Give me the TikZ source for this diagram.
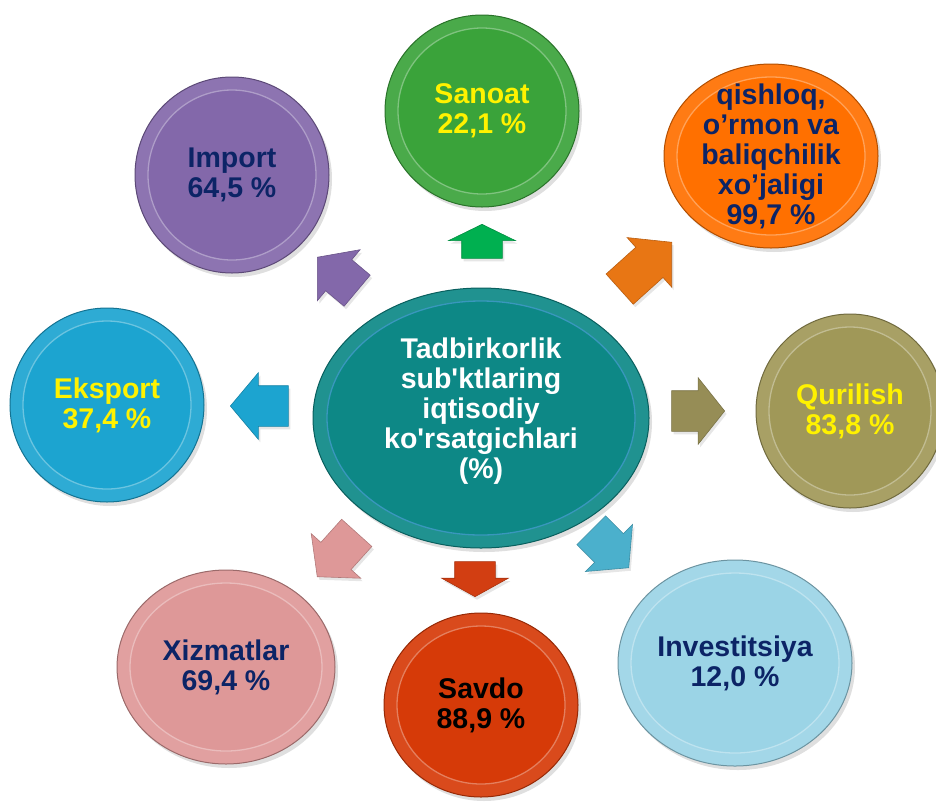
\documentclass[tikz,border=0pt]{standalone}
\usepackage{fontspec}
\setmainfont{Liberation Sans}[Ligatures=TeXOff]
\usetikzlibrary{shapes.geometric}
\usetikzlibrary{shapes.arrows}
\usetikzlibrary{shadows}

\definecolor{hubteal}{RGB}{13,136,134}
\definecolor{sanoatgreen}{RGB}{58,163,58}
\definecolor{agrorange}{RGB}{255,112,0}
\definecolor{quriolive}{RGB}{160,152,88}
\definecolor{investblue}{RGB}{155,212,230}
\definecolor{savdored}{RGB}{214,58,8}
\definecolor{xizmpink}{RGB}{222,152,152}
\definecolor{ekspblue}{RGB}{28,164,208}
\definecolor{imppurple}{RGB}{131,104,170}
\definecolor{arrgreen}{RGB}{0,176,80}
\definecolor{arrorange}{RGB}{232,118,20}
\definecolor{arrolive}{RGB}{150,141,86}
\definecolor{arrblue}{RGB}{75,176,204}
\definecolor{arrred}{RGB}{210,62,18}
\definecolor{labelnavy}{RGB}{12,36,102}

\begin{document}
\begin{tikzpicture}[x=1pt, y=-1pt]

\tikzstyle{every node}=[font=\bfseries\fontsize{28.5}{30}\selectfont]
\tikzstyle{bubble}=[ellipse, inner sep=0pt, line width=1pt,
	drop shadow={opacity=0.25, shadow xshift=3pt, shadow yshift=-4pt}]
\tikzstyle{ring}=[line width=1.3pt]
\tikzstyle{lbl}=[align=center, inner sep=0pt]
\tikzstyle{blockarrow}=[single arrow, inner xsep=0pt, inner ysep=20pt,
	single arrow head extend=13pt, line width=0.6pt,
	drop shadow={opacity=0.2, shadow xshift=2pt, shadow yshift=-3pt}]

\useasboundingbox (0,0) rectangle (936,801);

% centre
\node (hub) [bubble, fill=hubteal!92!white, draw=hubteal!70!black,
	minimum width=336pt, minimum height=260pt] at (481,418) {};
\draw[ring, draw=cyan!45!hubteal, fill=hubteal] 
			(hub.center) ellipse (154pt and 117pt);
\node (hubT) [lbl, text=white] at (481,411) 
	{Tadbirkorlik\\sub'ktlaring\\iqtisodiy\\ko'rsatgichlari\\(\%)};

% arrows
\node (arSanoat) [blockarrow, fill=arrgreen, draw=arrgreen!80!black,
	single arrow tip angle=128, minimum height=34pt,
	rotate=90, anchor=tip] at (482,224) {};
\node (arQishloq) [blockarrow, fill=arrorange, draw=arrorange!80!black,
	single arrow tip angle=96, minimum height=70pt,
	rotate=42, anchor=tip] at (672,242) {};
\node (arQurilish) [blockarrow, fill=arrolive, draw=arrolive!80!black,
	single arrow tip angle=103, minimum height=53pt,
	rotate=0, anchor=tip] at (725,411) {};
\node (arInvest) [blockarrow, fill=arrblue, draw=arrblue!80!black,
	single arrow tip angle=100, minimum height=53pt,
	rotate=-45, anchor=tip] at (629,568) {};
\node (arSavdo) [blockarrow, fill=arrred, draw=arrred!80!black,
	single arrow tip angle=122, minimum height=35pt,
	rotate=-90, anchor=tip] at (475,597) {};
\node (arXizmat) [blockarrow, fill=xizmpink, draw=xizmpink!80!black,
	single arrow tip angle=100, minimum height=59pt,
	rotate=-132, anchor=tip] at (317,577) {};
\node (arEksport) [blockarrow, fill=ekspblue, draw=ekspblue!80!black,
	single arrow tip angle=100, minimum height=58pt,
	rotate=180, anchor=tip] at (230,406) {};
\node (arImport) [blockarrow, fill=imppurple, draw=imppurple!80!black,
	single arrow tip angle=100, minimum height=52pt,
	rotate=140, anchor=tip] at (317,257) {};

% satellites
\node (sanoat) [bubble, fill=sanoatgreen!92!white, draw=sanoatgreen!70!black,
	minimum width=194pt, minimum height=192pt] at (482,111) {};
\draw[ring, draw=sanoatgreen!65!white, fill=sanoatgreen] 
			(sanoat.center) ellipse (84pt and 83pt);
\node (sanoatT) [lbl, text=yellow] at (sanoat) {Sanoat\\22,1 \%};

\node (qishloq) [bubble, fill=agrorange!92!white, draw=agrorange!70!black,
	minimum width=214pt, minimum height=184pt] at (771,156) {};
\draw[ring, draw=agrorange!65!white, fill=agrorange] 
			(qishloq.center) ellipse (94pt and 79pt);
\node (qishloqT) [lbl, text=labelnavy] at (qishloq) 
	{qishloq,\\o’rmon va\\baliqchilik\\xo’jaligi\\99,7 \%};

\node (qurilish) [bubble, fill=quriolive!92!white, draw=quriolive!70!black,
	minimum width=188pt, minimum height=194pt] at (850,411) {};
\draw[ring, draw=quriolive!65!white, fill=quriolive] 
			(qurilish.center) ellipse (81pt and 84pt);
\node (qurilishT) [lbl, text=yellow] at (qurilish) {Qurilish\\83,8 \%};

\node (invest) [bubble, fill=investblue!92!white, draw=investblue!70!black,
	minimum width=234pt, minimum height=206pt] at (735,663) {};
\draw[ring, draw=investblue!65!white, fill=investblue] 
			(invest.center) ellipse (104pt and 90pt);
\node (investT) [lbl, text=labelnavy] at (invest) {Investitsiya\\12,0 \%};

\node (savdo) [bubble, fill=savdored!92!white, draw=savdored!70!black,
	minimum width=194pt, minimum height=184pt] at (481,705) {};
\draw[ring, draw=savdored!65!white, fill=savdored] 
			(savdo.center) ellipse (84pt and 79pt);
\node (savdoT) [lbl, text=black] at (savdo) {Savdo\\88,9 \%};

\node (xizmat) [bubble, fill=xizmpink!92!white, draw=xizmpink!70!black,
	minimum width=218pt, minimum height=194pt] at (226,667) {};
\draw[ring, draw=xizmpink!65!white, fill=xizmpink] 
			(xizmat.center) ellipse (96pt and 84pt);
\node (xizmatT) [lbl, text=labelnavy] at (xizmat) {Xizmatlar\\69,4 \%};

\node (eksport) [bubble, fill=ekspblue!92!white, draw=ekspblue!70!black,
	minimum width=194pt, minimum height=194pt] at (107,405) {};
\draw[ring, draw=ekspblue!65!white, fill=ekspblue] 
			(eksport.center) ellipse (84pt and 84pt);
\node (eksportT) [lbl, text=yellow] at (eksport) {Eksport\\37,4 \%};

\node (import) [bubble, fill=imppurple!92!white, draw=imppurple!70!black,
	minimum width=194pt, minimum height=196pt] at (232,175) {};
\draw[ring, draw=imppurple!65!white, fill=imppurple] 
			(import.center) ellipse (84pt and 85pt);
\node (importT) [lbl, text=labelnavy] at (import) {Import\\64,5 \%};

\end{tikzpicture}
\end{document}
